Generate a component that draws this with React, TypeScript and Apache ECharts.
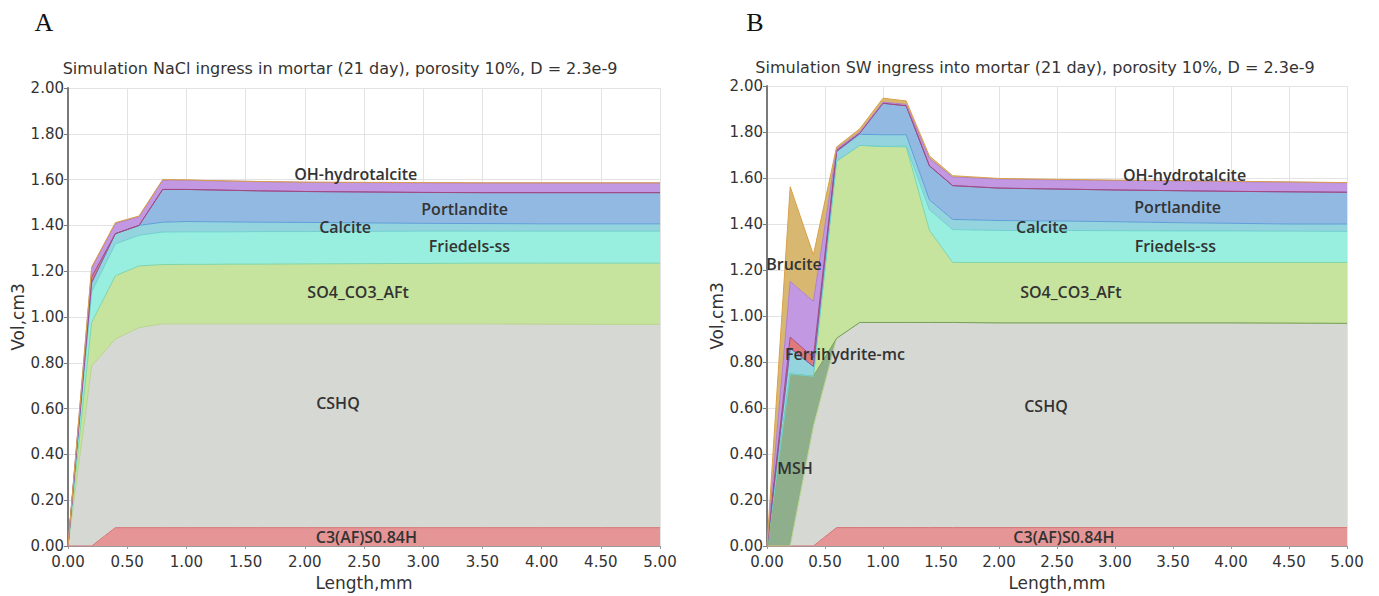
import React, { useEffect, useRef } from 'react';
import * as echarts from 'echarts';

// Distance from the exposed surface (mm), shared by both simulations
const LENGTH_MM = [0, 0.2, 0.4, 0.6, 0.8, 1.0, 1.2, 1.4, 1.6, 2.0, 2.5, 3.0, 3.5, 4.0, 4.5, 5.0];

// A: NaCl ingress in mortar — phase volumes (cm3)
const NACL_C3AFS = [0, 0, 0.08, 0.08, 0.08, 0.08, 0.08, 0.08, 0.08, 0.08, 0.08, 0.08, 0.08, 0.08, 0.08, 0.08];
const NACL_CSHQ = [0, 0.786, 0.824, 0.874, 0.89, 0.89, 0.89, 0.89, 0.89, 0.89, 0.89, 0.89, 0.89, 0.889, 0.888, 0.888];
const NACL_AFT = [0, 0.19, 0.276, 0.269, 0.259, 0.26, 0.26, 0.261, 0.261, 0.262, 0.263, 0.264, 0.265, 0.266, 0.267, 0.267];
const NACL_FRIEDELS = [0, 0.134, 0.139, 0.134, 0.142, 0.142, 0.142, 0.141, 0.142, 0.141, 0.141, 0.141, 0.14, 0.14, 0.14, 0.14];
const NACL_CALCITE = [0, 0.04, 0.045, 0.043, 0.043, 0.045, 0.044, 0.043, 0.041, 0.04, 0.037, 0.034, 0.033, 0.032, 0.032, 0.032];
const NACL_PORTLANDITE = [0, 0, 0, 0, 0.143, 0.14, 0.139, 0.138, 0.137, 0.135, 0.135, 0.135, 0.135, 0.136, 0.136, 0.136];
const NACL_FERRIHYDRITE = [0, 0.025, 0, 0, 0, 0, 0, 0, 0, 0, 0, 0, 0, 0, 0, 0];
const NACL_HYDROTALCITE = [0, 0.039, 0.044, 0.038, 0.041, 0.04, 0.04, 0.04, 0.04, 0.04, 0.041, 0.042, 0.042, 0.042, 0.042, 0.042];
const NACL_BRUCITE = [0, 0.004, 0.004, 0.003, 0.002, 0.002, 0.001, 0.001, 0.001, 0.001, 0.001, 0.001, 0.001, 0.001, 0.001, 0.001];

// B: seawater (SW) ingress into mortar — phase volumes (cm3)
const SW_C3AFS = [0, 0, 0, 0.08, 0.08, 0.08, 0.08, 0.08, 0.08, 0.08, 0.08, 0.08, 0.08, 0.08, 0.08, 0.08];
const SW_CSHQ = [0, 0, 0.52, 0.823, 0.892, 0.892, 0.892, 0.892, 0.892, 0.89, 0.89, 0.89, 0.89, 0.89, 0.889, 0.888];
const SW_MSH = [0, 0.748, 0.218, 0, 0, 0, 0, 0, 0, 0, 0, 0, 0, 0, 0, 0];
const SW_AFT = [0, 0, 0, 0.77, 0.77, 0.765, 0.763, 0.401, 0.261, 0.263, 0.263, 0.263, 0.263, 0.263, 0.264, 0.265];
const SW_FRIEDELS = [0, 0, 0, 0, 0, 0, 0.005, 0.089, 0.143, 0.139, 0.139, 0.138, 0.137, 0.137, 0.136, 0.135];
const SW_CALCITE = [0, 0.112, 0.043, 0.042, 0.048, 0.051, 0.048, 0.043, 0.044, 0.043, 0.041, 0.039, 0.036, 0.033, 0.031, 0.032];
const SW_PORTLANDITE = [0, 0, 0, 0, 0.005, 0.137, 0.126, 0.148, 0.147, 0.141, 0.139, 0.138, 0.139, 0.139, 0.14, 0.138];
const SW_FERRIHYDRITE = [0, 0.048, 0.039, 0.005, 0, 0, 0, 0, 0, 0, 0, 0, 0, 0, 0, 0];
const SW_HYDROTALCITE = [0, 0.242, 0.244, 0.007, 0.005, 0.005, 0.006, 0.032, 0.037, 0.04, 0.04, 0.041, 0.042, 0.042, 0.042, 0.041];
const SW_BRUCITE = [0, 0.412, 0.202, 0.008, 0.014, 0.017, 0.015, 0.011, 0.006, 0.002, 0.002, 0.002, 0.002, 0.002, 0.001, 0.001];

const TITLES = [
  'Simulation NaCl ingress in mortar (21 day), porosity 10%, D = 2.3e-9',
  'Simulation SW ingress into mortar (21 day), porosity 10%, D = 2.3e-9',
];
const PANEL_LETTERS = ['A', 'B'];

// Phase label anchors in data units [length mm, volume cm3]
const NACL_LABELS: [string, number, number][] = [
  ['OH-hydrotalcite', 2.43, 1.624],
  ['Portlandite', 3.35, 1.473],
  ['Calcite', 2.34, 1.391],
  ['Friedels-ss', 3.39, 1.309],
  ['SO4_CO3_AFt', 2.45, 1.11],
  ['CSHQ', 2.28, 0.626],
  ['C3(AF)S0.84H', 2.52, 0.039],
];
const SW_LABELS: [string, number, number][] = [
  ['OH-hydrotalcite', 3.6, 1.612],
  ['Portlandite', 3.54, 1.474],
  ['Calcite', 2.37, 1.388],
  ['Friedels-ss', 3.52, 1.306],
  ['SO4_CO3_AFt', 2.62, 1.103],
  ['Brucite', 0.233, 1.224],
  ['Ferrihydrite-mc', 0.672, 0.836],
  ['CSHQ', 2.405, 0.608],
  ['MSH', 0.241, 0.34],
  ['C3(AF)S0.84H', 2.56, 0.039],
];

const PHASE_STYLE: Record<string, { fill: string; line: string }> = {
  'C3(AF)S0.84H': { fill: '#e59595', line: '#d77272' },
  CSHQ: { fill: '#d6d8d4', line: '#b9d38e' },
  MSH: { fill: '#8fae8b', line: '#78a05c' },
  SO4_CO3_AFt: { fill: '#c7e49e', line: '#80d4a6' },
  'Friedels-ss': { fill: '#98efdf', line: '#6fd0cf' },
  Calcite: { fill: '#94d4de', line: '#5d9fd8' },
  Portlandite: { fill: '#92b9e2', line: '#8e5aa8' },
  'Ferrihydrite-mc': { fill: '#e07a7a', line: '#a24a7c' },
  'OH-hydrotalcite': { fill: '#c398e3', line: '#b07fc8' },
  Brucite: { fill: '#d8b771', line: '#d9a04a' },
};

const NACL_PHASES: [string, number[]][] = [
  ['C3(AF)S0.84H', NACL_C3AFS],
  ['CSHQ', NACL_CSHQ],
  ['SO4_CO3_AFt', NACL_AFT],
  ['Friedels-ss', NACL_FRIEDELS],
  ['Calcite', NACL_CALCITE],
  ['Portlandite', NACL_PORTLANDITE],
  ['Ferrihydrite-mc', NACL_FERRIHYDRITE],
  ['OH-hydrotalcite', NACL_HYDROTALCITE],
  ['Brucite', NACL_BRUCITE],
];
const SW_PHASES: [string, number[]][] = [
  ['C3(AF)S0.84H', SW_C3AFS],
  ['CSHQ', SW_CSHQ],
  ['MSH', SW_MSH],
  ['SO4_CO3_AFt', SW_AFT],
  ['Friedels-ss', SW_FRIEDELS],
  ['Calcite', SW_CALCITE],
  ['Portlandite', SW_PORTLANDITE],
  ['Ferrihydrite-mc', SW_FERRIHYDRITE],
  ['OH-hydrotalcite', SW_HYDROTALCITE],
  ['Brucite', SW_BRUCITE],
];

const GRIDS = [
  { left: 68, top: 88, width: 592, height: 463 },
  { left: 767, top: 86, width: 580, height: 464 },
];
const TITLE_POS = [
  [340, 68],
  [1035, 67],
];
const LETTER_POS = [
  [44, 22],
  [755, 22],
];

const UI_FONT = '"DejaVu Sans", sans-serif';
const LABEL_FONT = '"Open Sans", sans-serif';

// Volume is the first column so that the stack accumulates along y.
function buildSeries(phases: [string, number[]][], gridIndex: number) {
  return phases.map(([name, values]) => ({
    name,
    type: 'line',
    xAxisIndex: gridIndex,
    yAxisIndex: gridIndex,
    stack: 'panel' + gridIndex,
    stackStrategy: 'all',
    symbol: 'none',
    smooth: false,
    dimensions: ['vol', 'len'],
    encode: { x: 'len', y: 'vol' },
    data: LENGTH_MM.map((x, i) => [values[i], x]),
    lineStyle: { color: PHASE_STYLE[name].line, width: 1 },
    areaStyle: { color: PHASE_STYLE[name].fill, opacity: 1 },
    itemStyle: { color: PHASE_STYLE[name].fill },
  }));
}

function axisPair(gridIndex: number) {
  const xAxis = {
    type: 'value',
    gridIndex,
    min: 0,
    max: 5,
    interval: 0.5,
    name: 'Length,mm',
    nameLocation: 'middle',
    nameGap: 28,
    nameTextStyle: { fontFamily: UI_FONT, fontSize: 17, color: '#333' },
    axisLine: { show: true, lineStyle: { color: '#9a9a9a', width: 1 } },
    axisTick: { show: true, length: 3, lineStyle: { color: '#9a9a9a' } },
    axisLabel: {
      fontFamily: UI_FONT,
      fontSize: 15,
      lineHeight: 15,
      color: '#333',
      margin: 8,
      formatter: (v: number) => v.toFixed(2),
    },
    splitLine: { show: true, lineStyle: { color: '#e3e3e3', width: 1 } },
  };
  const yAxis = {
    type: 'value',
    gridIndex,
    min: 0,
    max: 2,
    interval: 0.2,
    name: 'Vol,cm3',
    nameLocation: 'middle',
    nameGap: 42,
    nameTextStyle: { fontFamily: UI_FONT, fontSize: 17, color: '#333' },
    axisLine: { show: true, lineStyle: { color: '#7a7a7a', width: 2 } },
    axisTick: { show: true, length: 4, lineStyle: { color: '#7a7a7a' } },
    axisLabel: {
      fontFamily: UI_FONT,
      fontSize: 15,
      lineHeight: 14,
      color: '#333',
      margin: 4,
      formatter: (v: number) => v.toFixed(2),
    },
    splitLine: { show: true, lineStyle: { color: '#e3e3e3', width: 1 } },
  };
  return { xAxis, yAxis };
}

export default function App() {
  const ref = useRef<HTMLDivElement>(null);

  useEffect(() => {
    if (!ref.current) return;
    const chart = echarts.init(ref.current, undefined, { renderer: 'svg' });
    const a = axisPair(0);
    const b = axisPair(1);
    chart.setOption({
      animation: false,
      backgroundColor: '#ffffff',
      grid: GRIDS.map((g) => ({ ...g, containLabel: false })),
      xAxis: [a.xAxis, b.xAxis],
      yAxis: [a.yAxis, b.yAxis],
      series: [...buildSeries(NACL_PHASES, 0), ...buildSeries(SW_PHASES, 1)],
    });

    const graphics: any[] = [];
    [0, 1].forEach((p) => {
      graphics.push({
        type: 'text',
        x: LETTER_POS[p][0],
        y: LETTER_POS[p][1],
        style: {
          text: PANEL_LETTERS[p],
          font: '26px "Liberation Serif", serif',
          fill: '#111',
          textAlign: 'center',
          textVerticalAlign: 'middle',
        },
      });
      graphics.push({
        type: 'text',
        x: TITLE_POS[p][0],
        y: TITLE_POS[p][1],
        style: {
          text: TITLES[p],
          font: `16px ${UI_FONT}`,
          fill: '#333',
          textAlign: 'center',
          textVerticalAlign: 'middle',
        },
      });
      const labels = p === 0 ? NACL_LABELS : SW_LABELS;
      labels.forEach(([text, lx, ly]) => {
        const [px, py] = chart.convertToPixel({ gridIndex: p }, [lx, ly]) as number[];
        graphics.push({
          type: 'text',
          x: px,
          y: py,
          z: 50,
          style: {
            text,
            font: `600 16px ${LABEL_FONT}`,
            fill: '#333',
            textAlign: 'center',
            textVerticalAlign: 'middle',
          },
        });
      });
    });
    chart.setOption({ graphic: graphics });

    return () => chart.dispose();
  }, []);

  return (
    <div
      ref={ref}
      style={{ position: 'fixed', left: 0, top: 0, width: 1379, height: 596, background: '#fff' }}
    />
  );
}
